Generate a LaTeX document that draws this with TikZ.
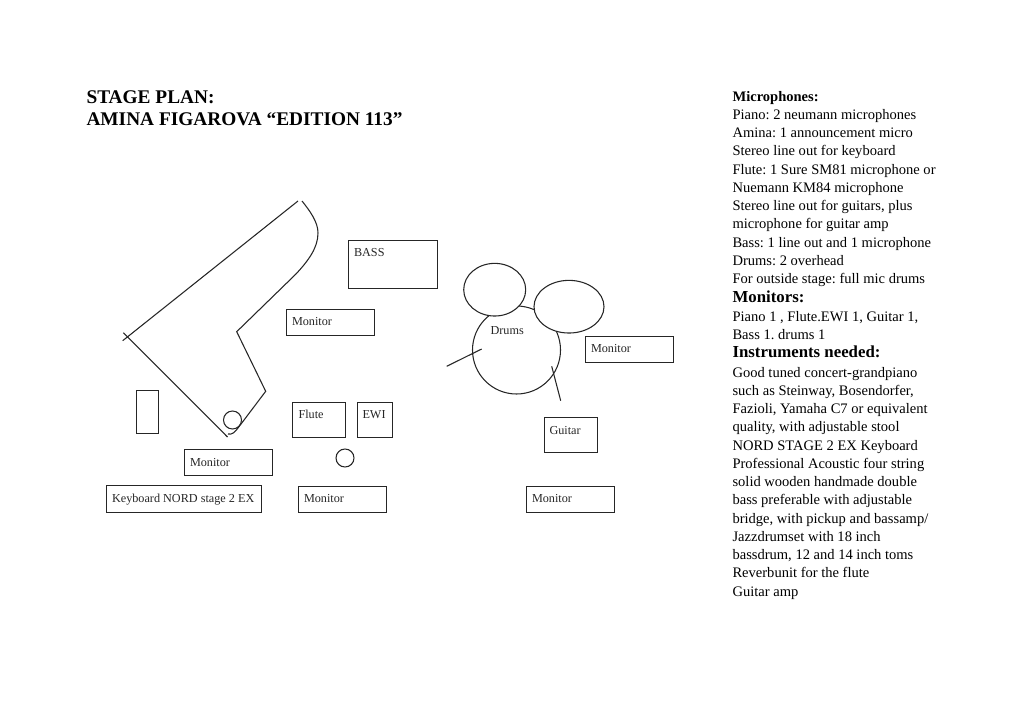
\documentclass[tikz,border=0pt]{standalone}
\usepackage{fontspec}
\usetikzlibrary{shapes.geometric}
\setmainfont{Liberation Serif}
\frenchspacing
\begin{document}
\begin{tikzpicture}[x=0.75pt,y=-0.75pt,
  line width=0.8pt,
  boxframe/.style={draw=black!85,rectangle,inner sep=0pt,anchor=north west},
  lbl/.style={anchor=base west,inner sep=0pt,font=\fontsize{9.15}{11}\selectfont,text=black!85},
  micdot/.style={draw=black!85,circle,inner sep=0pt,minimum size=13.5pt},
  drum/.style={draw=black!85,fill=white,ellipse,inner sep=0pt},
  stroke/.style={draw=black!85},
  sidehead/.style={anchor=north west,inner sep=0pt,align=left,font=\fontsize{12.6}{13.7}\selectfont\bfseries},
  sidetext/.style={anchor=north west,inner sep=0pt,align=left,font=\fontsize{10.9}{13.69}\selectfont}
]
\useasboundingbox (0,0) rectangle (1024,723);
% title
\node[anchor=base west,inner sep=0pt,font=\fontsize{14.5}{16.5}\selectfont\bfseries] (title1) at (86,104) {STAGE PLAN:};
\node[anchor=base west,inner sep=0pt,font=\fontsize{14.5}{16.5}\selectfont\bfseries] (title2) at (86,126) {AMINA FIGAROVA “EDITION 113”};
% piano
\coordinate (pa) at (298,201);
\coordinate (pb) at (122.7,340.7);
\coordinate (pc) at (123.3,332.7);
\coordinate (pd) at (227.5,437);
\coordinate (pe) at (302,201);
\coordinate (pm) at (318,233);
\coordinate (pn) at (296,274);
\coordinate (pf) at (236.7,331.7);
\coordinate (pg) at (265.7,391.3);
\coordinate (ph) at (238,428);
\coordinate (pi) at (228,434);
\draw[stroke] (pa) -- (pb);
\draw[stroke] (pc) -- (pd);
\draw[stroke] (pe) .. controls (310,211) and (318,222) .. (pm) .. controls (318,248) and (308,261) .. (pn) -- (pf) -- (pg) -- (ph) .. controls (235,432) and (232,435) .. (pi);
\node[micdot] (pianomic) at (232.5,420) {};
\node[micdot] (flutemic) at (345,458) {};
% boxes
\node[boxframe,minimum width=66.75pt,minimum height=36pt] (bass) at (348,240) {};
\node[lbl] (basst) at (353.5,257) {BASS};
\node[boxframe,minimum width=66pt,minimum height=19.5pt] (mon1) at (286,309) {};
\node[lbl] (mon1t) at (291.5,326) {Monitor};
\node[boxframe,minimum width=16.5pt,minimum height=32.25pt] (stool) at (136,390) {};
\node[boxframe,minimum width=39.75pt,minimum height=26.25pt] (flute) at (292,402) {};
\node[lbl] (flutet) at (298,418) {Flute};
\node[boxframe,minimum width=26.25pt,minimum height=26.25pt] (ewi) at (357,402) {};
\node[lbl] (ewit) at (362,418) {EWI};
\node[boxframe,minimum width=66pt,minimum height=19.5pt] (mon2) at (184,449) {};
\node[lbl] (mon2t) at (189.5,466) {Monitor};
\node[boxframe,minimum width=116.25pt,minimum height=20.25pt] (keys) at (106,485) {};
\node[lbl] (keyst) at (111.5,502) {Keyboard NORD stage 2 EX};
\node[boxframe,minimum width=66pt,minimum height=19.5pt] (mon3) at (298,485.5) {};
\node[lbl] (mon3t) at (303.5,502) {Monitor};
% drums
\node[draw=black!85,circle,inner sep=0pt,minimum size=66pt] (kick) at (516.5,350) {};
\node[drum,minimum width=46.5pt,minimum height=39.5pt] (tom1) at (494.7,289.7) {};
\node[drum,minimum width=52.5pt,minimum height=39.5pt] (tom2) at (569,306.7) {};
\node[lbl] (drumst) at (490,335) {Drums};
\coordinate (l1a) at (446.7,366.3);
\coordinate (l1b) at (481.7,349);
\coordinate (l2a) at (551.7,366.3);
\coordinate (l2b) at (560.7,400.7);
\draw[stroke] (l1a) -- (l1b);
\draw[stroke] (l2a) -- (l2b);
\node[boxframe,minimum width=66pt,minimum height=19.5pt] (mon4) at (584.8,336.3) {};
\node[lbl] (mon4t) at (590.5,352.5) {Monitor};
\node[boxframe,minimum width=39.75pt,minimum height=26.25pt] (guitar) at (543.6,417.4) {};
\node[lbl] (guitart) at (549,434.5) {Guitar};
\node[boxframe,minimum width=66pt,minimum height=19.5pt] (mon5) at (526,485.5) {};
\node[lbl] (mon5t) at (531.5,502) {Monitor};
% side text
\node[sidetext] (mics) at (732,90.6) {\textbf{Microphones:}\\Piano: 2 neumann microphones\\Amina: 1 announcement micro\\Stereo line out for keyboard\\Flute: 1 Sure SM81 microphone or\\Nuemann KM84 microphone\\Stereo line out for guitars, plus\\microphone for guitar amp\\Bass: 1 line out and 1 microphone\\Drums: 2 overhead\\For outside stage: full mic drums};
\node[sidehead] (monh) at (732,290) {Monitors:};
\node[sidetext] (mont) at (732,311) {Piano 1 , Flute.EWI 1, Guitar 1,\\Bass 1. drums 1};
\node[sidehead] (insh) at (732,345) {Instruments needed:};
\node[sidetext] (inst) at (732,366.5) {Good tuned concert-grandpiano\\such as Steinway, Bosendorfer,\\Fazioli, Yamaha C7 or equivalent\\quality, with adjustable stool\\NORD STAGE 2 EX Keyboard\\Professional Acoustic four string\\solid wooden handmade double\\bass preferable with adjustable\\bridge, with pickup and bassamp/\\Jazzdrumset with 18 inch\\bassdrum, 12 and 14 inch toms\\Reverbunit for the flute\\Guitar amp};
\end{tikzpicture}
\end{document}
